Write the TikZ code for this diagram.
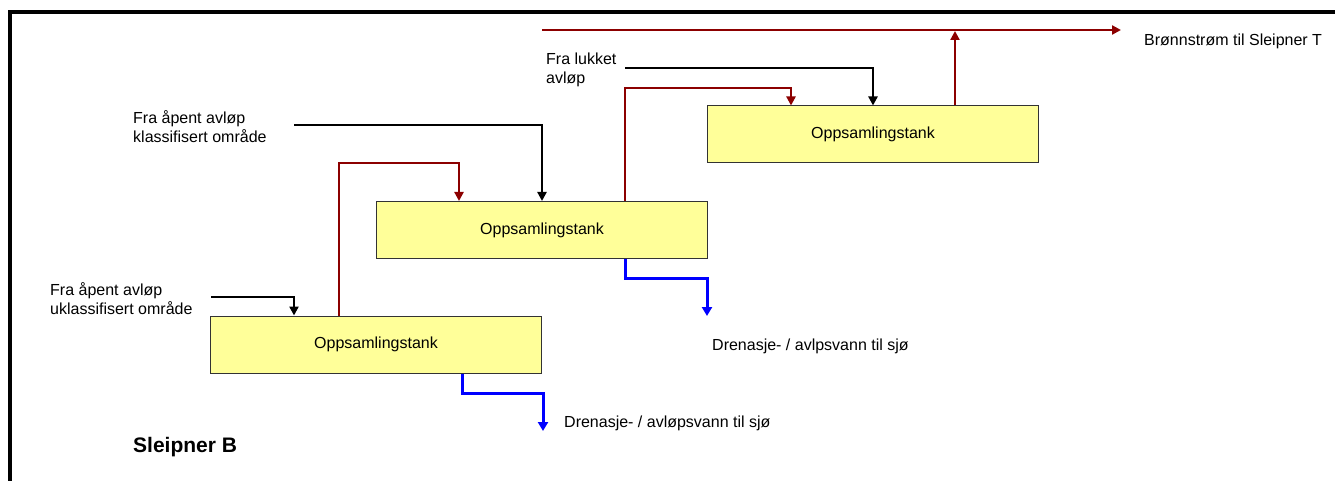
\documentclass[tikz,border=0pt]{standalone}
\usepackage{fontspec}
\setmainfont{Liberation Sans}
\usetikzlibrary{arrows.meta}
\definecolor{pipered}{RGB}{140,0,0}
\definecolor{tankfill}{RGB}{255,255,153}
\begin{document}
\begin{tikzpicture}[x=1pt,y=-1pt]
	\tikzstyle{tank} = [draw=black!80,line width=1pt,fill=tankfill,minimum width=331pt,minimum height=57pt,font=\fontsize{16}{19}\selectfont]
	\tikzstyle{lbl} = [inner sep=0pt,align=left,anchor=west,font=\fontsize{16}{19}\selectfont]
	\tikzstyle{gas} = [draw=pipered,line width=2.6pt,-{Triangle[width=9pt,length=9pt]}]
	\tikzstyle{feed} = [draw=black,line width=2.6pt,-{Triangle[width=9pt,length=9pt]}]
	\tikzstyle{water} = [draw=blue,line width=3pt,-{Triangle[width=10pt,length=9pt]}]
	\useasboundingbox (0,0) rectangle (1335,481);
	% frame
	\draw[line width=3.8pt] (10,481) -- (10,12) -- (1335,12);
	% tanks
	\node[tank] (t1) at (873,134.5) {Oppsamlingstank};
	\node[tank] (t2) at (542,230) {Oppsamlingstank};
	\node[tank] (t3) at (376,344.5) {Oppsamlingstank};
	% labels
	\node[lbl] (l1) at (546,70) {Fra lukket\\avløp};
	\node[lbl] (l2) at (133,127) {Fra åpent avløp\\klassifisert område};
	\node[lbl] (l3) at (50,299) {Fra åpent avløp\\uklassifisert område};
	\node[lbl] (out) at (1144,41) {Brønnstrøm til Sleipner T};
	\node[lbl] (sea2) at (712,346) {Drenasje- / avlpsvann til sjø};
	\node[lbl] (sea3) at (564,423) {Drenasje- / avløpsvann til sjø};
	\node[lbl,font=\fontsize{21}{25}\selectfont\bfseries] (plat) at (133,447) {Sleipner B};
	% free ends
	\coordinate (h0) at (542,30);
	\coordinate (h1) at (1121,30);
	\coordinate (f1) at (625,68);
	\coordinate (f2) at (294,125);
	\coordinate (f3) at (211,297);
	\coordinate (d2) at (707,316);
	\coordinate (d3) at (543,431);
	% gas lines
	\draw[gas] (h0) -- (h1);
	\draw[gas] (t1.north -| 955,0) -- (955,31);
	\draw[gas] (t2.north -| 625,0) |- (791,88) -- (t1.north -| 791,0);
	\draw[gas] (t3.north -| 339,0) |- (459,163) -- (t2.north -| 459,0);
	% feeds
	\draw[feed] (f1) -| (t1.north);
	\draw[feed] (f2) -| (t2.north);
	\draw[feed] (f3) -| (t3.north -| 294,0);
	% drain to sea
	\draw[water] (t2.south -| 625,0) |- (707,278) -- (d2);
	\draw[water] (t3.south -| 462,0) |- (543,393) -- (d3);
\end{tikzpicture}
\end{document}
